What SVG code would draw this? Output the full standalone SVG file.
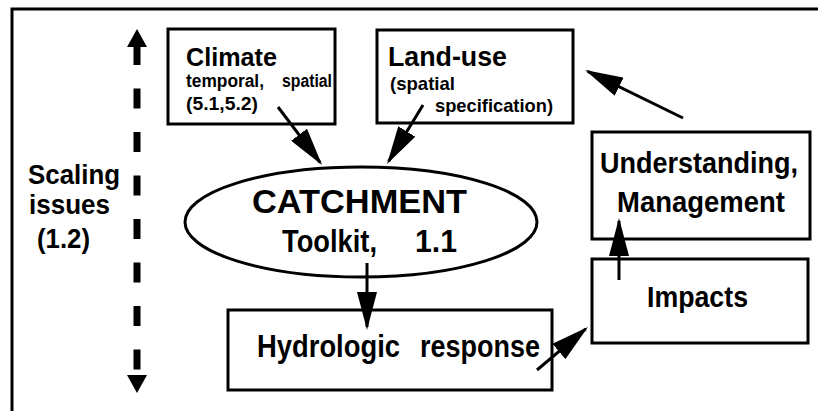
<svg xmlns="http://www.w3.org/2000/svg" width="818" height="411" viewBox="0 0 818 411">
<style>
.box{fill:none;stroke:#000;stroke-width:3}
.t{font-family:"Liberation Sans",Arial,sans-serif;font-weight:bold;fill:#000}
.c{stroke:#000;stroke-width:3;fill:none;marker-end:url(#ah)}
</style>
<defs>
<marker id="ah" viewBox="0 0 38 20" refX="35" refY="10" markerWidth="38" markerHeight="20" markerUnits="userSpaceOnUse" orient="auto">
<path d="M0,0 L38,10 L0,20 z" fill="#000"/>
</marker>
</defs>
<rect width="818" height="411" fill="#fff"/>
<path d="M12,411 V9 H818" class="box"/>
<g id="scaling">
<text class="t" x="28" y="184" font-size="28" textLength="92" lengthAdjust="spacingAndGlyphs">Scaling</text>
<text class="t" x="29" y="214" font-size="28" textLength="81" lengthAdjust="spacingAndGlyphs">issues</text>
<text class="t" x="37" y="248" font-size="28" textLength="53" lengthAdjust="spacingAndGlyphs">(1.2)</text>
</g>
<g id="climate">
<rect x="168" y="29" width="167" height="95" class="box"/>
<text class="t" x="186" y="66" font-size="26" textLength="91" lengthAdjust="spacingAndGlyphs">Climate</text>
<text class="t" x="186" y="87" font-size="18" textLength="78" lengthAdjust="spacingAndGlyphs">temporal,</text>
<text class="t" x="282" y="87" font-size="18" textLength="50" lengthAdjust="spacingAndGlyphs">spatial</text>
<text class="t" x="186" y="110" font-size="18" textLength="72" lengthAdjust="spacingAndGlyphs">(5.1,5.2)</text>
</g>
<g id="landuse">
<rect x="377" y="30" width="196" height="93" class="box"/>
<text class="t" x="388" y="66" font-size="28" textLength="119" lengthAdjust="spacingAndGlyphs">Land-use</text>
<text class="t" x="390" y="90" font-size="19" textLength="65" lengthAdjust="spacingAndGlyphs">(spatial</text>
<text class="t" x="435" y="112" font-size="19" textLength="118" lengthAdjust="spacingAndGlyphs">specification)</text>
</g>
<g id="catchment">
<ellipse cx="361" cy="222" rx="176" ry="55" class="box"/>
<text class="t" x="252" y="213" font-size="34" textLength="215" lengthAdjust="spacingAndGlyphs">CATCHMENT</text>
<text class="t" x="282" y="252" font-size="31" textLength="95" lengthAdjust="spacingAndGlyphs">Toolkit,</text>
<text class="t" x="415" y="252" font-size="31" textLength="42" lengthAdjust="spacingAndGlyphs">1.1</text>
</g>
<g id="hydrologic">
<rect x="228" y="310" width="324" height="80" class="box"/>
<text class="t" x="257" y="357" font-size="31" textLength="143" lengthAdjust="spacingAndGlyphs">Hydrologic</text>
<text class="t" x="420" y="357" font-size="31" textLength="120" lengthAdjust="spacingAndGlyphs">response</text>
</g>
<g id="understanding">
<rect x="592" y="132" width="218" height="107" class="box"/>
<text class="t" x="600" y="173" font-size="29" textLength="198" lengthAdjust="spacingAndGlyphs">Understanding,</text>
<text class="t" x="617" y="212" font-size="29" textLength="168" lengthAdjust="spacingAndGlyphs">Management</text>
</g>
<g id="impacts">
<rect x="592" y="259" width="216" height="84" class="box"/>
<text class="t" x="647" y="307" font-size="29" textLength="101" lengthAdjust="spacingAndGlyphs">Impacts</text>
</g>
<g id="connectors">
<line x1="137" y1="45" x2="137" y2="370" stroke="#000" stroke-width="7" stroke-dasharray="20 23.5"/>
<polygon points="137,29 147,47 127,47" fill="#000"/>
<polygon points="127,375 147,375 137,393" fill="#000"/>
<line class="c" x1="278" y1="107" x2="320.2" y2="162.6"/>
<line class="c" x1="423" y1="105" x2="388.6" y2="161.4"/>
<line class="c" x1="367" y1="263" x2="367" y2="327"/>
<line class="c" x1="537" y1="370" x2="585.7" y2="328.9"/>
<line class="c" x1="619" y1="280" x2="619" y2="221"/>
<line class="c" x1="683" y1="118" x2="587.7" y2="71.3"/>
</g>
</svg>
